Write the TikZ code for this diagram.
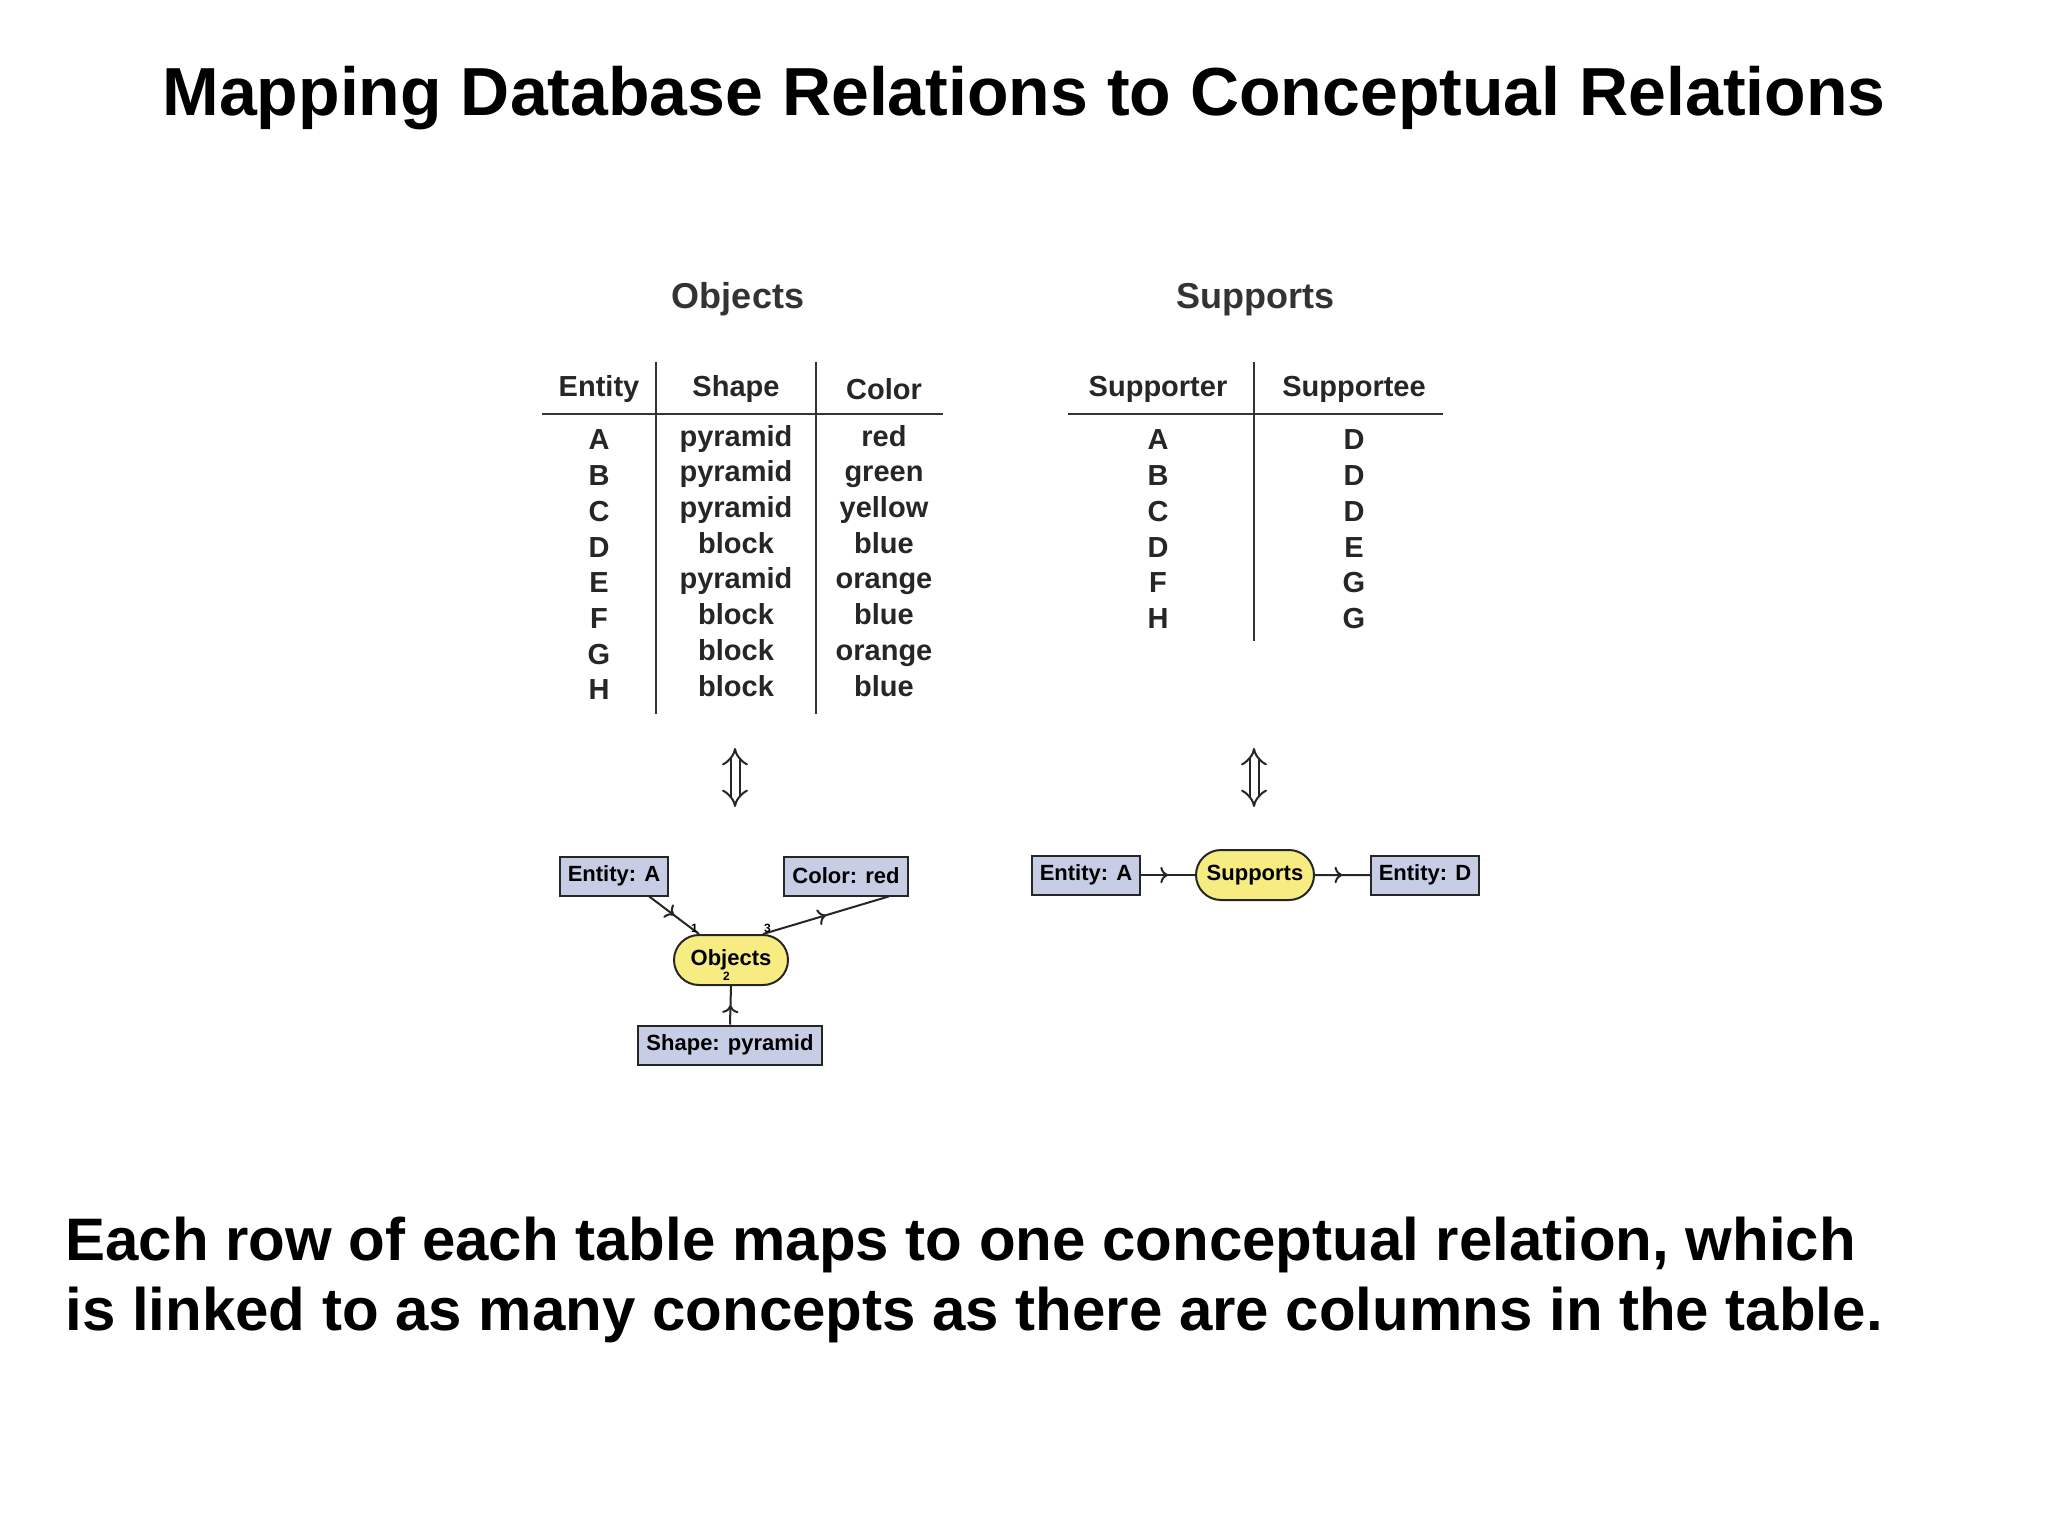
\documentclass[tikz,border=0pt]{standalone}
\usepackage{fontspec}
\setmainfont{Liberation Sans}
\usetikzlibrary{arrows.meta,decorations.markings,shapes.misc}
\begin{document}
\begin{tikzpicture}[x=1pt,y=-1pt,
  tbl/.style={font=\fontsize{29}{29}\selectfont\bfseries,text=black!85,inner sep=0pt},
  ttl/.style={font=\fontsize{36}{36}\selectfont\bfseries,text=black!80},
  cbox/.style={draw=black!85,line width=2pt,fill={rgb,255:red,200;green,205;blue,230},font=\fontsize{22}{22}\selectfont\bfseries,minimum height=39pt,inner xsep=8pt},
  rel/.style={draw=black!85,line width=2pt,fill={rgb,255:red,246;green,236;blue,130},rounded rectangle,font=\fontsize{22}{22}\selectfont\bfseries,minimum height=50pt,inner xsep=14pt},
  con/.style={line width=2pt,draw=black!85,postaction={decorate},decoration={markings,mark=at position 0.5 with {\arrow{>[scale=1.3]}}}},
  lbl/.style={font=\fontsize{12}{12}\selectfont\bfseries,inner sep=1pt},
  dbl/.style={double,double distance=7pt,line width=2pt,draw=black!85,{Implies}-{Implies}},
  rule/.style={line width=2pt,draw=black!80}]
\useasboundingbox[fill=white] (0,0) rectangle (2048,1535);
\node[font=\fontsize{68}{68}\selectfont\bfseries] (title) at (1024,98) {Mapping Database Relations to Conceptual Relations};
% Objects table
\node[ttl] (ot) at (738,299) {Objects};
\node[tbl] (h1) at (599,389) {Entity};
\node[tbl] (h2) at (736,389) {Shape};
\node[tbl] (h3) at (884,389) {Color};
\draw[rule] (542,414) -- (943,414);
\draw[rule] (656,362) -- (656,714);
\draw[rule] (816,362) -- (816,714);
\foreach \e/\s/\c [count=\i from 0] in {A/pyramid/red,B/pyramid/green,C/pyramid/yellow,D/block/blue,E/pyramid/orange,F/block/blue,G/block/orange,H/block/blue}{
  \node[tbl] (oe\i) at (599,{440+35.7*\i}) {\e};
  \node[tbl] (os\i) at (736,{440+35.7*\i}) {\strut\s};
  \node[tbl] (oc\i) at (884,{440+35.7*\i}) {\strut\c};
}
% Supports table
\node[ttl] (st) at (1255,300) {Supports};
\node[tbl] (h4) at (1158,389) {Supporter};
\node[tbl] (h5) at (1354,389) {Supportee};
\draw[rule] (1068,414) -- (1443,414);
\draw[rule] (1254,362) -- (1254,641);
\foreach \a/\b [count=\i from 0] in {A/D,B/D,C/D,D/E,F/G,H/G}{
  \node[tbl] (sa\i) at (1158,{440+35.7*\i}) {\a};
  \node[tbl] (sb\i) at (1354,{440+35.7*\i}) {\b};
}
% double arrows
\coordinate (d1t) at (735,748); \coordinate (d1b) at (735,807);
\coordinate (d2t) at (1254,748); \coordinate (d2b) at (1254,807);
\draw[dbl] (d1t) -- (d1b);
\draw[dbl] (d2t) -- (d2b);
% Objects graph
\node[cbox] (ea) at (614,876) {Entity: A};
\node[cbox] (cr) at (846,876) {Color: red};
\node[rel,minimum width=142pt] (obj) at (731,960) {Objects};
\node[cbox] (sp) at (730,1045) {Shape: pyramid};
\draw[con] (ea.south east) ++(-20,0) -- (obj.north west);
\draw[con] (obj.north east) -- ([xshift=-20pt]cr.south east);
\draw[con] (sp.north) -- (obj.south);
\node[lbl,anchor=south east] (l1) at (obj.north west) {1};
\node[lbl,anchor=south west] (l3) at (obj.north east) {3};
\node[lbl,anchor=east] (l2) at ([yshift=10pt]obj.south) {2};
% Supports graph
\node[cbox] (ea2) at (1086,875) {Entity: A};
\node[rel,minimum width=146pt] (sup) at (1255,875) {Supports};
\node[cbox] (ed) at (1425,875) {Entity: D};
\draw[con] (ea2) -- (sup);
\draw[con] (sup) -- (ed);
% caption
\node[anchor=west,align=left,font=\fontsize{60}{70}\selectfont\bfseries] (cap) at (62,1280) {Each row of each table maps to one conceptual relation, which\\is linked to as many concepts as there are columns in the table.};
\end{tikzpicture}
\end{document}
